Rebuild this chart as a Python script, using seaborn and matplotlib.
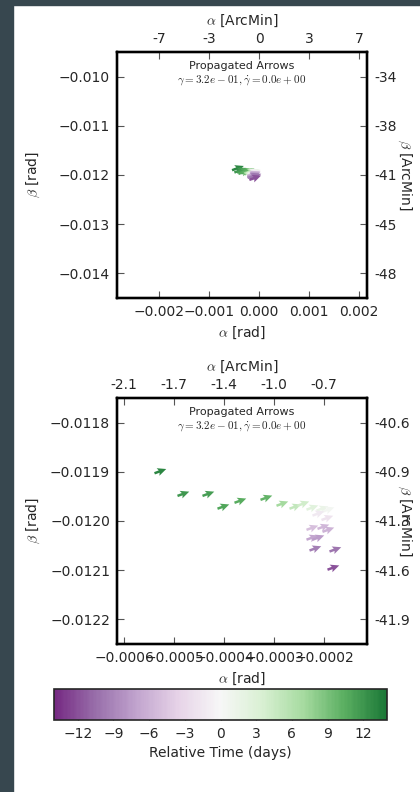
import numpy as np
import matplotlib
matplotlib.use("Agg")
import matplotlib.pyplot as plt
import seaborn as sns
from matplotlib.colors import Normalize, ListedColormap
from matplotlib.patches import Rectangle

# arrow tails (rad), relative time (days) and screen angle (deg)
alpha_rad = [-0.000539, -0.000493, -0.000443, -0.000413, -0.000379, -0.000327,
             -0.000295, -0.000269, -0.000253, -0.000235, -0.000215, -0.000203,
             -0.000205, -0.000223, -0.000235, -0.000213, -0.000203, -0.000235,
             -0.000223, -0.000229, -0.000189, -0.000193]
beta_rad = [-0.011903, -0.011949, -0.011949, -0.011975, -0.011963, -0.011957,
            -0.011969, -0.011975, -0.011969, -0.011977, -0.011979, -0.011981,
            -0.011998, -0.011989, -0.012018, -0.012016, -0.012022, -0.012038,
            -0.012038, -0.012060, -0.012062, -0.012099]
rel_time = [13, 12, 11.5, 11, 10.5, 10, 7, 5, 4, 2.5, 1.5, 0.5,
            -2, -1.5, -5, -5.5, -6, -7, -7.5, -9.5, -10, -12]
arrow_angle = [20, 20, 20, 20, 20, 20, 20, 20, 20, 20, 20, 20,
               20, 20, 20, 20, 20, 20, 20, 20, 20, 20]

title_txt = "Propagated Arrows\n$\\gamma=3.2e-01, \\dot{\\gamma}=0.0e+00$"

# panel settings: limits, ticks, formats
top_xlim = (-0.00284, 0.00216)
top_ylim = (-0.0145, -0.0095)
top_xticks = [-0.002, -0.001, 0.0, 0.001, 0.002]
top_yticks = [-0.014, -0.013, -0.012, -0.011, -0.010]
bot_xlim = (-0.000614, -0.000114)
bot_ylim = (-0.01225, -0.01175)
bot_xticks = [-0.0006, -0.0005, -0.0004, -0.0003, -0.0002]
bot_yticks = [-0.0122, -0.0121, -0.0120, -0.0119, -0.0118]
cbar_ticks = [-12, -9, -6, -3, 0, 3, 6, 9, 12]

sns.set_style("white")
plt.rcParams["font.family"] = ["DejaVu Sans"]
plt.rcParams["mathtext.fontset"] = "cm"
plt.rcParams["font.size"] = 10

RAD2AMIN = 180.0 / np.pi * 60.0
base = sns.color_palette("PRGn", as_cmap=True)
cmap = ListedColormap(base(np.linspace(0.1, 0.9, 256)))
norm = Normalize(vmin=-14, vmax=14)

fig = plt.figure(figsize=(4.2, 7.92), dpi=100)
fig.patch.set_facecolor("white")
fig.patches.append(Rectangle((0, 0), 13 / 420, 1, transform=fig.transFigure,
                             color="#37474f", zorder=-1))
fig.patches.append(Rectangle((0, 1 - 5 / 792), 1, 5 / 792, transform=fig.transFigure,
                             color="#37474f", zorder=-1))

u = np.cos(np.radians(arrow_angle))
v = np.sin(np.radians(arrow_angle))


def fmt(vals, f):
    return [(f % t).replace("-", "\u2212") for t in vals]


def style_spines(a):
    for s in a.spines.values():
        s.set_linewidth(1.6)
        s.set_color("black")


def panel(rect, xlim, ylim, xticks, yticks, xf, yf, top_f, right_f):
    ax = fig.add_axes(rect)
    q = ax.quiver(alpha_rad, beta_rad, u, v, rel_time, cmap=cmap, norm=norm,
                  pivot="tail", angles="uv", scale_units="width", scale=20,
                  width=0.01, headwidth=3.2, headlength=3.5, headaxislength=3)
    ax.set_xlim(xlim)
    ax.set_ylim(ylim)
    ax.set_xticks(xticks)
    ax.set_xticklabels(fmt(xticks, xf))
    ax.set_yticks(yticks)
    ax.set_yticklabels(fmt(yticks, yf))
    ax.tick_params(direction="in", length=5, width=0.8, color="#555555",
                   labelsize=10, pad=5)
    ax.set_xlabel("$\\alpha$ [rad]", labelpad=4)
    ax.set_ylabel("$\\beta$ [rad]", ha="center", va="center")
    ax.yaxis.set_label_coords(-0.336, 0.5)
    style_spines(ax)
    ax.text(0.5, 0.965, title_txt, transform=ax.transAxes, ha="center",
            va="top", fontsize=8, linespacing=1.3)

    axt = ax.twiny()
    axt.set_xlim(xlim)
    axt.set_xticks(xticks)
    axt.set_xticklabels([top_f % (t * RAD2AMIN) for t in xticks])
    axt.tick_params(direction="in", length=5, width=0.8, color="#555555",
                    labelsize=10, pad=4.5)
    axt.set_xlabel("$\\alpha$ [ArcMin]", labelpad=5)

    axr = ax.twinx()
    axr.set_ylim(ylim)
    axr.set_yticks(yticks)
    axr.set_yticklabels([right_f % (t * RAD2AMIN) for t in yticks])
    axr.tick_params(direction="in", length=5, width=0.8, color="#555555",
                    labelsize=10, pad=5)
    axr.set_ylabel("$\\beta$ [ArcMin]", rotation=270, ha="center", va="center")
    axr.yaxis.set_label_coords(1.152, 0.5)
    style_spines(axt)
    style_spines(axr)
    return q


panel([117 / 420, 1 - 298 / 792, 250 / 420, 246 / 792], top_xlim, top_ylim,
      top_xticks, top_yticks, "%.3f", "%.3f", "%.0f", "%.0f")
q = panel([117 / 420, 1 - 644 / 792, 250 / 420, 246 / 792], bot_xlim, bot_ylim,
          bot_xticks, bot_yticks, "%.4f", "%.4f", "%.1f", "%.1f")

cax = fig.add_axes([54 / 420, 1 - 720 / 792, 333 / 420, 31 / 792])
cb = fig.colorbar(q, cax=cax, orientation="horizontal", ticks=cbar_ticks)
cb.set_label("Relative Time (days)", fontsize=10)
cax.set_xticklabels(fmt(cbar_ticks, "%d"))
cax.tick_params(direction="in", length=5, width=0.8, color="#444444",
                labelsize=10, pad=5)
cb.outline.set_linewidth(1.2)

fig.savefig("out.png", dpi=100)
